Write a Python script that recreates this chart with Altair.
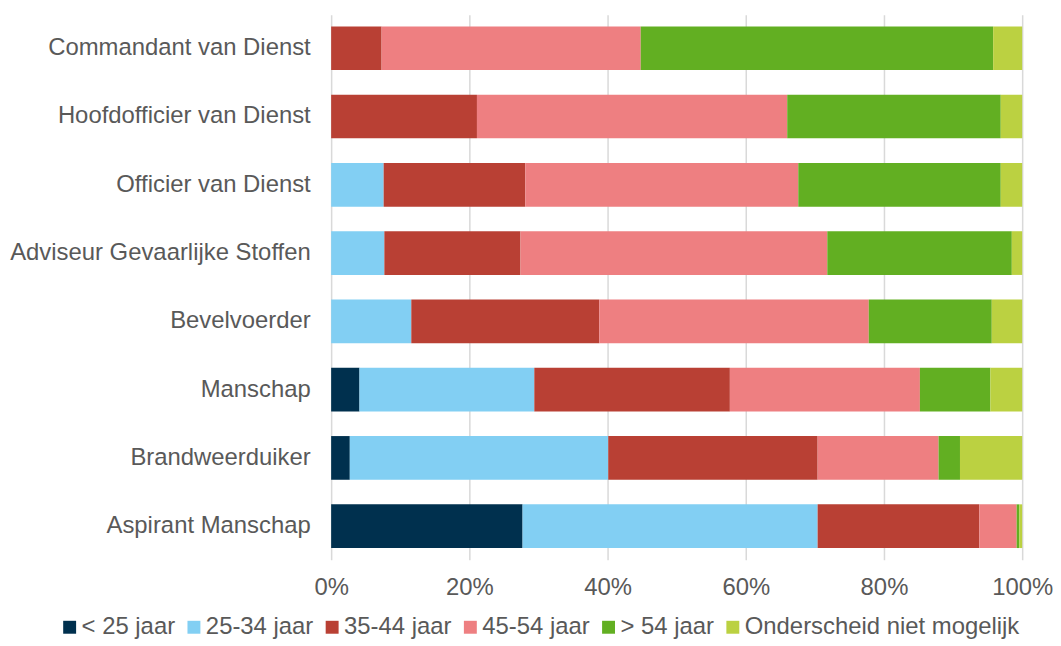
import altair as alt
import pandas as pd

categories = [
    "Commandant van Dienst",
    "Hoofdofficier van Dienst",
    "Officier van Dienst",
    "Adviseur Gevaarlijke Stoffen",
    "Bevelvoerder",
    "Manschap",
    "Brandweerduiker",
    "Aspirant Manschap",
]
series = ["< 25 jaar", "25-34 jaar", "35-44 jaar", "45-54 jaar", "> 54 jaar", "Onderscheid niet mogelijk"]
colors = ["#00304E", "#82CFF3", "#B94034", "#EE7F81", "#62AF22", "#BBD141"]

age_lt25 = [0.0, 0.0, 0.0, 0.0, 0.0, 4.1, 2.7, 27.7]
age_25_34 = [0.0, 0.0, 7.6, 7.7, 11.6, 25.3, 37.4, 42.7]
age_35_44 = [7.3, 21.1, 20.5, 19.7, 27.2, 28.3, 30.3, 23.4]
age_45_54 = [37.5, 44.9, 39.5, 44.4, 39.0, 27.5, 17.5, 5.4]
age_gt54 = [51.0, 30.9, 29.3, 26.7, 17.8, 10.2, 3.1, 0.4]
age_unknown = [4.2, 3.1, 3.1, 1.5, 4.4, 4.6, 9.0, 0.4]

all_series = [age_lt25, age_25_34, age_35_44, age_45_54, age_gt54, age_unknown]

rows = []
for si, (name, vals) in enumerate(zip(series, all_series)):
    for cat, v in zip(categories, vals):
        rows.append({"Functie": cat, "Leeftijd": name, "Aandeel": v, "volgorde": si})
df = pd.DataFrame(rows)

FONT = "Liberation Sans"
GREY = "#595959"

chart = (
    alt.Chart(df)
    .mark_bar()
    .encode(
        y=alt.Y(
            "Functie:N",
            sort=categories,
            scale=alt.Scale(paddingInner=0.36, paddingOuter=0.17),
            axis=alt.Axis(
                title=None,
                domain=False,
                ticks=False,
                tickSize=0,
                grid=False,
                labelFontSize=24,
                labelFont=FONT,
                labelColor=GREY,
                labelPadding=21,
                labelLimit=400,
                minExtent=325,
                maxExtent=325,
            ),
        ),
        x=alt.X(
            "Aandeel:Q",
            stack="normalize",
            scale=alt.Scale(domain=[0, 1], nice=False),
            axis=alt.Axis(
                title=None,
                format="%",
                values=[0, 0.2, 0.4, 0.6, 0.8, 1.0],
                domain=False,
                ticks=False,
                tickSize=0,
                grid=True,
                gridColor="#D9D9D9",
                gridWidth=1.5,
                labelFontSize=24,
                labelFont=FONT,
                labelColor=GREY,
                labelBaseline="middle",
                labelPadding=28,
                labelFlush=False,
            ),
        ),
        color=alt.Color(
            "Leeftijd:N",
            sort=series,
            scale=alt.Scale(domain=series, range=colors),
            legend=alt.Legend(
                title=None,
                orient="none",
                direction="horizontal",
                legendX=-275,
                legendY=604,
                symbolType="square",
                symbolSize=169,
                symbolStrokeWidth=0,
                symbolOpacity=1,
                labelFontSize=24,
                labelFont=FONT,
                labelColor=GREY,
                labelOffset=0,
                labelLimit=400,
                columnPadding=6,
            ),
        ),
        order=alt.Order("volgorde:Q", sort="ascending"),
    )
    .properties(width=695, height=548, padding={"left": 0, "top": 5, "right": 0, "bottom": 0})
    .configure_view(stroke=None)
)

chart.save("out.html", embed_options={"renderer": "svg", "actions": False})
